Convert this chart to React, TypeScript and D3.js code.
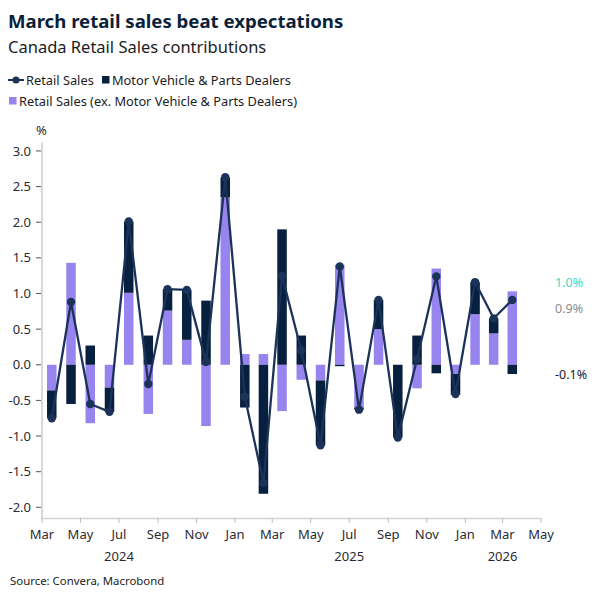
import { useEffect, useRef } from 'react';
import * as d3 from 'd3';

// monthly contributions to retail sales growth, Mar 2024 - Mar 2026 (%)
const months = [
  '2024-03', '2024-04', '2024-05', '2024-06', '2024-07', '2024-08', '2024-09', '2024-10',
  '2024-11', '2024-12', '2025-01', '2025-02', '2025-03', '2025-04', '2025-05', '2025-06',
  '2025-07', '2025-08', '2025-09', '2025-10', '2025-11', '2025-12', '2026-01', '2026-02',
  '2026-03',
];
const exMotor = [
  -0.36, 1.43, -0.82, -0.32, 1.01, -0.69, 0.76, 0.35, -0.86, 2.35, 0.15, 0.15, -0.65,
  -0.21, -0.22, 1.40, -0.60, 0.50, 0.0, -0.33, 1.35, -0.13, 0.71, 0.44, 1.03,
];
const motor = [
  -0.39, -0.55, 0.27, -0.34, 1.0, 0.41, 0.30, 0.70, 0.90, 0.28, -0.60, -1.81, 1.90,
  0.41, -0.91, -0.02, -0.03, 0.41, -1.02, 0.41, -0.12, -0.29, 0.45, 0.21, -0.13,
];
const retailSales = [
  -0.75, 0.88, -0.55, -0.66, 2.01, -0.27, 1.06, 1.05, 0.04, 2.63, -0.45, -1.66, 1.25,
  0.20, -1.13, 1.38, -0.63, 0.91, -1.02, 0.08, 1.24, -0.41, 1.16, 0.65, 0.91,
];
const yTicks = [-2, -1.5, -1, -0.5, 0, 0.5, 1, 1.5, 2, 2.5, 3];
const yearLabels = [
  { date: '2024-07', label: '2024' },
  { date: '2025-07', label: '2025' },
  { date: '2026-03', label: '2026' },
];

const NAVY = '#08203f';
const LINE = '#1b3359';
const PURPLE = '#9784ef';
const TEXT = '#1c1c24';
const FONT = '"Noto Sans", "Open Sans", sans-serif';

function App() {
  const plotRef = useRef<SVGGElement>(null);

  useEffect(() => {
    drawChart();
    // eslint-disable-next-line
  }, []);

  function drawChart() {
    const g = d3.select(plotRef.current);
    g.selectAll('*').remove();

    const parse = d3.timeParse('%Y-%m');
    const dates = months.map(m => parse(m) as Date);

    const x = d3.scaleTime()
      .domain([new Date(2024, 2, 1), new Date(2026, 4, 1)])
      .range([42, 541]);
    const y = d3.scaleLinear()
      .domain([-2.15, 3.12])
      .range([518, 142.4]);

    const center = (d: Date) => (x(d) + x(d3.timeMonth.offset(d, 1))) / 2;
    const barW = 9.5;

    const rows = months.map((m, i) => ({ date: dates[i], exMotor: exMotor[i], motor: motor[i] }));
    const stack = d3.stack<any>()
      .keys(['exMotor', 'motor'])
      .offset(d3.stackOffsetDiverging);
    const series = stack(rows);
    const colors: Record<string, string> = { exMotor: PURPLE, motor: NAVY };

    // axes
    const axisG = g.append('g');
    axisG.append('line')
      .attr('x1', 42).attr('x2', 42)
      .attr('y1', y(3.12)).attr('y2', 518)
      .attr('stroke', '#d9d9d9').attr('stroke-width', 2);
    axisG.append('line')
      .attr('x1', 41).attr('x2', 541)
      .attr('y1', 518.5).attr('y2', 518.5)
      .attr('stroke', '#d4d4d4').attr('stroke-width', 1.5);

    yTicks.forEach(t => {
      axisG.append('line')
        .attr('x1', 36).attr('x2', 41)
        .attr('y1', y(t)).attr('y2', y(t))
        .attr('stroke', '#555').attr('stroke-width', 1);
      axisG.append('text')
        .attr('x', 31).attr('y', y(t))
        .attr('dy', '0.35em')
        .attr('text-anchor', 'end')
        .attr('font-size', 13)
        .attr('fill', '#2a2a33')
        .text(t.toFixed(1));
    });
    axisG.append('text')
      .attr('x', 36).attr('y', 135)
      .attr('font-size', 13).attr('fill', '#2a2a33')
      .text('%');

    const xTicks = x.ticks(d3.timeMonth.every(2) as any);
    xTicks.forEach(t => {
      axisG.append('line')
        .attr('x1', x(t)).attr('x2', x(t))
        .attr('y1', 518).attr('y2', 523)
        .attr('stroke', '#bdbdbd').attr('stroke-width', 1);
      axisG.append('text')
        .attr('x', x(t)).attr('y', 539)
        .attr('text-anchor', 'middle')
        .attr('font-size', 13).attr('fill', '#2a2a33')
        .text(d3.timeFormat('%b')(t));
    });
    yearLabels.forEach(d => {
      axisG.append('text')
        .attr('x', x(parse(d.date) as Date)).attr('y', 561)
        .attr('text-anchor', 'middle')
        .attr('font-size', 13).attr('fill', '#2a2a33')
        .text(d.label);
    });

    // stacked contribution bars
    g.append('g')
      .selectAll('g')
      .data(series)
      .join('g')
      .attr('fill', s => colors[s.key])
      .selectAll('rect')
      .data(s => s)
      .join('rect')
      .attr('x', d => center(d.data.date) - barW / 2)
      .attr('width', barW)
      .attr('y', d => y(Math.max(d[0], d[1])))
      .attr('height', d => Math.abs(y(d[0]) - y(d[1])));

    // headline retail sales line
    const line = d3.line<number>()
      .x((_, i) => center(dates[i]))
      .y(d => y(d));
    g.append('path')
      .datum(retailSales)
      .attr('d', line)
      .attr('fill', 'none')
      .attr('stroke', LINE)
      .attr('stroke-width', 2.3);
    g.append('g')
      .selectAll('circle')
      .data(retailSales)
      .join('circle')
      .attr('cx', (_, i) => center(dates[i]))
      .attr('cy', d => y(d))
      .attr('r', 4.2)
      .attr('fill', LINE);

    // latest values
    const last = months.length - 1;
    const fmt = (v: number) => `${v.toFixed(1)}%`;
    const endLabels = [
      { v: exMotor[last], yPos: 283, color: '#3ed8c3' },
      { v: retailSales[last], yPos: 308.5, color: '#8c8c8c' },
      { v: motor[last], yPos: 375, color: '#1a1a2a' },
    ];
    g.append('g')
      .selectAll('text')
      .data(endLabels)
      .join('text')
      .attr('x', 555).attr('y', d => d.yPos)
      .attr('dy', '0.35em')
      .attr('font-size', 12.5)
      .attr('fill', d => d.color)
      .text(d => fmt(d.v));
  }

  return (
    <svg
      width={601}
      height={601}
      style={{ position: 'absolute', left: 0, top: 0, fontFamily: FONT, background: '#fff' }}
    >
      <text x={8} y={28} fontSize={18.6} fontWeight={700} fill="#0b1f3a">March retail sales beat expectations</text>
      <text x={8} y={53} fontSize={16.5} fill={TEXT}>Canada Retail Sales contributions</text>
      <g fontSize={12.8} fill={TEXT}>
        <line x1={8} x2={24} y1={80} y2={80} stroke={LINE} strokeWidth={2} />
        <circle cx={16} cy={80} r={3.5} fill={LINE} />
        <text x={26} y={84.5}>Retail Sales</text>
        <rect x={102} y={76} width={7.5} height={7.5} fill={NAVY} />
        <text x={112} y={84.5}>Motor Vehicle &amp; Parts Dealers</text>
        <rect x={9} y={97} width={7.5} height={7.5} fill={PURPLE} />
        <text x={19} y={105.5}>Retail Sales (ex. Motor Vehicle &amp; Parts Dealers)</text>
      </g>
      <text x={10} y={585} fontSize={11.4} fill={TEXT}>Source: Convera, Macrobond</text>
      <g ref={plotRef} />
    </svg>
  );
}

export default App;
